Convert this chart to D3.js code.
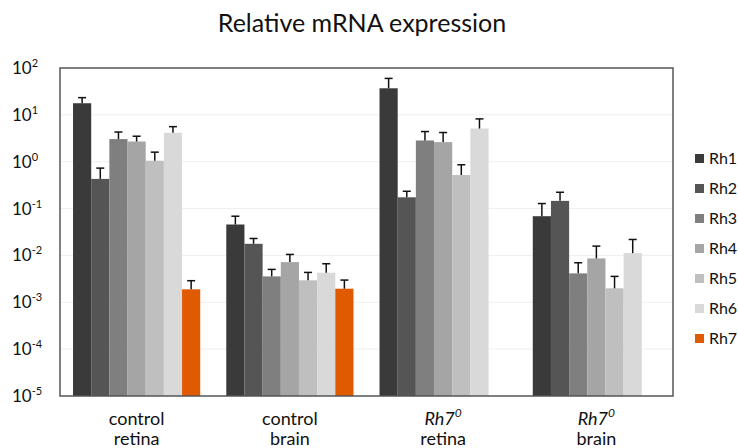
<!DOCTYPE html>
<html lang="en">
<head>
<meta charset="UTF-8">
<title>Relative mRNA expression</title>
<script src="https://cdn.jsdelivr.net/npm/d3@7"></script>
<style>
    body { margin: 0; background: #fff; }
    #chart { width: 738px; height: 448px; }
    text { font-family: Lato, "Open Sans", sans-serif; fill: #111; }
</style>
</head>
<body>
<div id="chart"></div>
<script>
    // groups on the x axis, label split in two lines
    const groups = ["control retina", "control brain", "Rh7 retina", "Rh7 brain"];
    const groupLine1 = ["control", "control", "Rh7", "Rh7"];
    const groupLine2 = ["retina", "brain", "retina", "brain"];
    const genes = ["Rh1", "Rh2", "Rh3", "Rh4", "Rh5", "Rh6", "Rh7"];
    const colors = ["#3a3a3a", "#555555", "#7f7f7f", "#a5a5a5", "#bfbfbf", "#d9d9d9", "#e05a00"];

    // mean values per gene, one entry per group (null = not measured)
    const rh1 = [17.7, 0.0457, 36.9, 0.0687];
    const rh2 = [0.43, 0.0177, 0.174, 0.146];
    const rh3 = [3.04, 0.00357, 2.84, 0.00414];
    const rh4 = [2.7, 0.0072, 2.62, 0.00863];
    const rh5 = [1.05, 0.00294, 0.52, 0.00199];
    const rh6 = [4.14, 0.00428, 5.1, 0.0112];
    const rh7 = [0.00189, 0.00195, null, null];

    // upper end of the error bar
    const rh1Err = [23.3, 0.0687, 60, 0.128];
    const rh2Err = [0.73, 0.023, 0.234, 0.223];
    const rh3Err = [4.3, 0.00503, 4.4, 0.00698];
    const rh4Err = [3.5, 0.0105, 4.2, 0.0158];
    const rh5Err = [1.6, 0.00434, 0.86, 0.00357];
    const rh6Err = [5.6, 0.00664, 8.2, 0.0219];
    const rh7Err = [0.00289, 0.00298, null, null];

    const yTicks = [2, 1, 0, -1, -2, -3, -4, -5];

    const values = [rh1, rh2, rh3, rh4, rh5, rh6, rh7];
    const errors = [rh1Err, rh2Err, rh3Err, rh4Err, rh5Err, rh6Err, rh7Err];

    let draw = () => {
        let svg = d3.select("#chart").append("svg")
            .attr("width", 738)
            .attr("height", 448);

        let padding = { top: 68, left: 60, bottom: 52, right: 65 };
        let width = +svg.attr("width") - padding.left - padding.right;
        let height = +svg.attr("height") - padding.top - padding.bottom;

        // title
        svg.append("text")
            .attr("x", 362)
            .attr("y", 32)
            .attr("text-anchor", "middle")
            .style("font-size", "25px")
            .text("Relative mRNA expression");

        let focus = svg.append("g")
            .attr("transform", "translate(" + padding.left + "," + padding.top + ")");

        let x0 = d3.scaleBand()
            .domain(groups)
            .range([0, width])
            .paddingInner(0.17)
            .paddingOuter(0.085);
        let x1 = d3.scaleBand()
            .domain(genes)
            .range([0, x0.bandwidth()]);
        let y = d3.scaleLog()
            .domain([1e-5, 1e2])
            .range([height, 0]);

        // gridlines
        focus.append("g")
            .selectAll("line")
            .data(yTicks.filter(d => d > -5 && d < 2))
            .join("line")
            .attr("x1", 0)
            .attr("x2", width)
            .attr("y1", d => y(Math.pow(10, d)))
            .attr("y2", d => y(Math.pow(10, d)))
            .attr("stroke", "#efefef")
            .attr("stroke-width", 1);

        // bars
        let rows = [];
        genes.forEach((g, gi) => {
            groups.forEach((grp, k) => {
                if (values[gi][k] != null) {
                    rows.push({ gene: g, group: grp, v: values[gi][k], e: errors[gi][k], c: colors[gi] });
                }
            });
        });

        let cx = d => x0(d.group) + x1(d.gene) + x1.bandwidth() / 2;

        focus.append("g")
            .selectAll("rect")
            .data(rows)
            .join("rect")
            .attr("x", d => x0(d.group) + x1(d.gene))
            .attr("width", x1.bandwidth())
            .attr("y", d => y(d.v))
            .attr("height", d => height - y(d.v))
            .attr("fill", d => d.c);

        // error bars (upper part only)
        let eb = focus.append("g")
            .attr("stroke", "#111")
            .attr("stroke-width", 1.5);
        eb.selectAll("line.v")
            .data(rows)
            .join("line")
            .attr("class", "v")
            .attr("x1", cx)
            .attr("x2", cx)
            .attr("y1", d => y(d.v))
            .attr("y2", d => y(d.e));
        eb.selectAll("line.cap")
            .data(rows)
            .join("line")
            .attr("class", "cap")
            .attr("x1", d => cx(d) - 4)
            .attr("x2", d => cx(d) + 4)
            .attr("y1", d => y(d.e))
            .attr("y2", d => y(d.e));

        // frame
        focus.append("rect")
            .attr("width", width)
            .attr("height", height)
            .attr("fill", "none")
            .attr("stroke", "#555")
            .attr("stroke-width", 1.5);

        // y tick labels 10^n
        let yl = svg.append("g");
        yTicks.forEach(t => {
            let txt = yl.append("text")
                .attr("x", 12)
                .attr("y", padding.top + y(Math.pow(10, t)) + 6)
                .style("font-size", "17px");
            txt.append("tspan").text("10");
            txt.append("tspan")
                .attr("dy", -7)
                .style("font-size", "11px")
                .text(t);
        });

        // x labels
        let xl = svg.append("g");
        groups.forEach((grp, k) => {
            let gx = padding.left + x0(grp) + x0.bandwidth() / 2;
            let t1 = xl.append("text")
                .attr("x", gx)
                .attr("y", 425)
                .attr("text-anchor", "middle")
                .style("font-size", "18px");
            if (groupLine1[k] === "Rh7") {
                t1.append("tspan").style("font-style", "italic").text("Rh7");
                t1.append("tspan").attr("dy", -8).style("font-size", "12px").style("font-style", "italic").text("0");
            } else {
                t1.text(groupLine1[k]);
            }
            xl.append("text")
                .attr("x", gx)
                .attr("y", 445)
                .attr("text-anchor", "middle")
                .style("font-size", "18px")
                .text(groupLine2[k]);
        });

        // legend
        let lg = svg.append("g").attr("transform", "translate(695,154)");
        genes.forEach((g, i) => {
            lg.append("rect")
                .attr("x", 0)
                .attr("y", i * 30)
                .attr("width", 9)
                .attr("height", 9)
                .attr("fill", colors[i]);
            lg.append("text")
                .attr("x", 14)
                .attr("y", i * 30 + 10)
                .style("font-size", "16px")
                .text(g);
        });
    };

    draw();
</script>
</body>
</html>
